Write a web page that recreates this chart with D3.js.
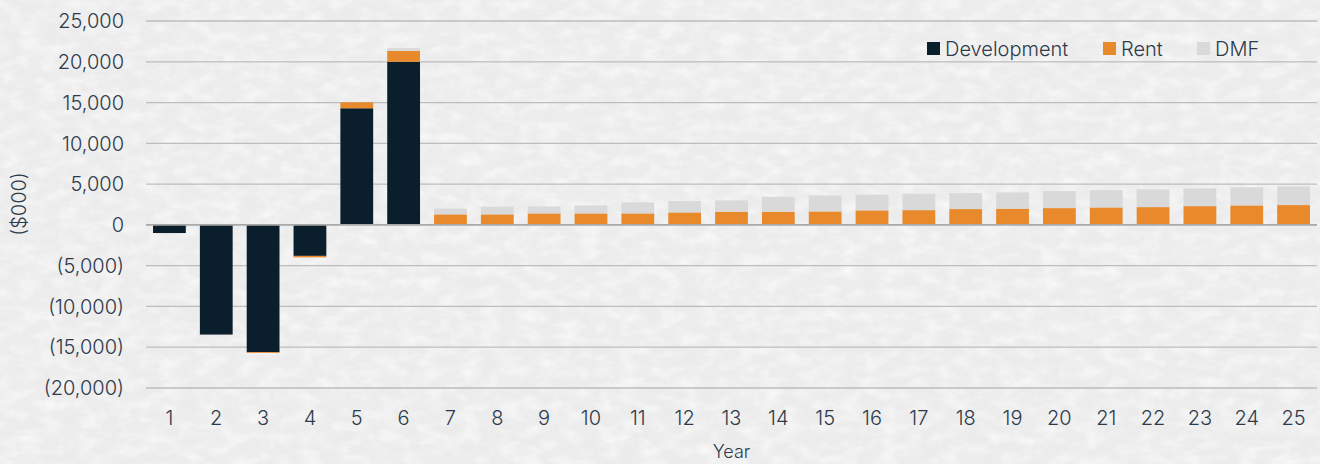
<html>
<head>
<meta charset="utf-8">
<title>Cash flow by year</title>
<script src="https://cdn.jsdelivr.net/npm/d3@7/dist/d3.min.js"></script>
<style>
  html, body { margin: 0; padding: 0; background: #efefef; }
  svg { display: block; }
  text { font-family: Inter, "Noto Sans", sans-serif; font-weight: 300; fill: #2d3a4b; }
</style>
</head>
<body>
<div id="chart"></div>
<script>
// Data ($000)
var years = ["1","2","3","4","5","6","7","8","9","10","11","12","13","14","15","16","17","18","19","20","21","22","23","24","25"];
var development = [-1000, -13450, -15600, -3800, 14300, 20000, 0, 0, 0, 0, 0, 0, 0, 0, 0, 0, 0, 0, 0, 0, 0, 0, 0, 0, 0];
var rent = [0, 0, -100, -180, 730, 1340, 1290, 1290, 1410, 1410, 1410, 1530, 1620, 1620, 1650, 1780, 1810, 1940, 1990, 2060, 2140, 2180, 2300, 2390, 2430];
var dmf = [0, 0, 0, 0, 0, 330, 700, 940, 860, 980, 1350, 1390, 1380, 1830, 1960, 1920, 2010, 1960, 1990, 2080, 2130, 2170, 2170, 2210, 2290];
var yTicks = [-20000, -15000, -10000, -5000, 0, 5000, 10000, 15000, 20000, 25000];
var seriesNames = ["Development", "Rent", "DMF"];
var seriesColors = ["#0b1e2b", "#e8892c", "#d9d9d9"];

var W = 1320, H = 464;
var svg = d3.select("#chart").append("svg").attr("width", W).attr("height", H);

// paper texture background (fine, low contrast)
var defs = svg.append("defs");
var f = defs.append("filter").attr("id", "paper").attr("x", 0).attr("y", 0).attr("width", "100%").attr("height", "100%");
f.append("feTurbulence").attr("type", "fractalNoise").attr("baseFrequency", "0.05 0.09").attr("numOctaves", 4).attr("seed", 7);
f.append("feColorMatrix").attr("type", "matrix")
  .attr("values", "0 0 0 0 1  0 0 0 0 1  0 0 0 0 1  0 0 0 -1.2 0.72");
svg.append("rect").attr("width", W).attr("height", H).attr("fill", "#ececec");
svg.append("rect").attr("width", W).attr("height", H).attr("filter", "url(#paper)");

var x = d3.scaleBand().domain(years).range([146, 1317]).paddingInner(0.3).paddingOuter(0.15);
var y = d3.scaleLinear().domain([-20000, 25000]).range([388, 21]);

// gridlines
svg.append("g").selectAll("line").data(yTicks.filter(function(d){ return d != 0; })).join("line")
  .attr("x1", 146).attr("x2", 1317)
  .attr("y1", function(d){ return y(d); }).attr("y2", function(d){ return y(d); })
  .attr("stroke", "#bdbdbd").attr("stroke-width", 1.3);

// stacked bars
var table = years.map(function(yr, i){ return { year: yr, Development: development[i], Rent: rent[i], DMF: dmf[i] }; });
var stack = d3.stack().keys(seriesNames).offset(d3.stackOffsetDiverging);
var layers = stack(table);

svg.append("g").selectAll("g").data(layers).join("g")
  .attr("fill", function(d, i){ return seriesColors[i]; })
  .selectAll("rect").data(function(d){ return d; }).join("rect")
  .attr("x", function(d){ return x(d.data.year); })
  .attr("width", x.bandwidth())
  .attr("y", function(d){ return y(Math.max(d[0], d[1])); })
  .attr("height", function(d){ return Math.abs(y(d[0]) - y(d[1])); });

// zero line
svg.append("line").attr("x1", 146).attr("x2", 1317).attr("y1", y(0)).attr("y2", y(0))
  .attr("stroke", "#a9a9a9").attr("stroke-width", 1.6);

// y axis labels
function fmt(v){
  var s = d3.format(",")(Math.abs(v));
  return v < 0 ? "(" + s + ")" : s;
}
svg.append("g").selectAll("text").data(yTicks).join("text")
  .attr("x", 124).attr("y", function(d){ return y(d); }).attr("dy", "0.36em")
  .attr("text-anchor", "end").style("font-size", "20px")
  .text(fmt);

svg.append("text").attr("transform", "translate(26,204) rotate(-90)")
  .attr("text-anchor", "middle").style("font-size", "20px").text("($000)");

// x axis labels
svg.append("g").selectAll("text").data(years).join("text")
  .attr("x", function(d){ return x(d) + x.bandwidth() / 2; }).attr("y", 425)
  .attr("text-anchor", "middle").style("font-size", "20px")
  .text(function(d){ return d; });

svg.append("text").attr("x", (146 + 1317) / 2).attr("y", 458)
  .attr("text-anchor", "middle").style("font-size", "18px").text("Year");

// legend
var legendX = [927, 1103, 1197];
var lg = svg.append("g").selectAll("g").data(seriesNames).join("g")
  .attr("transform", function(d, i){ return "translate(" + legendX[i] + ",42)"; });
lg.append("rect").attr("width", 13).attr("height", 13).attr("fill", function(d, i){ return seriesColors[i]; });
lg.append("text").attr("x", 18).attr("y", 6.5).attr("dy", "0.36em").style("font-size", "20px").text(function(d){ return d; });
</script>
</body>
</html>
